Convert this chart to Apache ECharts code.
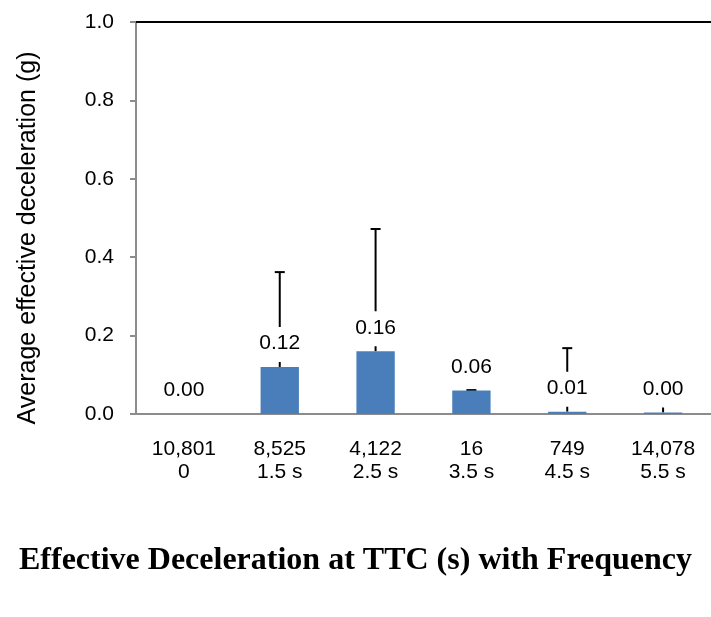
<!DOCTYPE html>
<html>
<head>
<meta charset="utf-8">
<script src="https://cdn.jsdelivr.net/npm/echarts@6/dist/echarts.min.js"></script>
<style>
  html, body { margin: 0; padding: 0; background: #fff; }
  #chart { width: 711px; height: 617px; }
</style>
</head>
<body>
<div id="chart"></div>
<script>
// data
var frequency = ['10,801', '8,525', '4,122', '16', '749', '14,078'];
var ttcLabels = ['0', '1.5 s', '2.5 s', '3.5 s', '4.5 s', '5.5 s'];
var avgDecel = [0, 0.12, 0.16, 0.06, 0.006, 0.004];
var errUpper = [null, 0.362, 0.472, 0.061, 0.168, 0.028];
var yTicks = [0, 0.2, 0.4, 0.6, 0.8, 1.0];

var categories = frequency.map(function (f, i) { return f + '\n' + ttcLabels[i]; });

var chartDom = document.getElementById('chart');
var myChart = echarts.init(chartDom);

var errData = errUpper.map(function (u, i) { return [i, avgDecel[i], u]; })
    .filter(function (d) { return d[2] !== null; });

var sans = "'Liberation Sans', Arial, sans-serif";

var option = {
    animation: false,
    backgroundColor: '#fff',
    textStyle: { fontFamily: sans },
    title: {
        text: 'Effective Deceleration at TTC (s) with Frequency',
        left: 'center',
        top: 540,
        textStyle: {
            fontFamily: "'Liberation Serif', 'Times New Roman', serif",
            fontWeight: 'bold',
            fontSize: 32,
            color: '#000'
        }
    },
    graphic: [
        {
            type: 'text',
            x: 28,
            y: 238,
            rotation: Math.PI / 2,
            style: {
                text: 'Average effective deceleration (g)',
                fontFamily: sans,
                fontSize: 25,
                fill: '#000',
                align: 'center',
                verticalAlign: 'middle'
            }
        }
    ],
    grid: { left: 136, top: 22, right: -2, bottom: 203 },
    xAxis: [
        {
            type: 'category',
            data: categories,
            boundaryGap: true,
            axisLine: { lineStyle: { color: '#8c8c8c', width: 2 } },
            axisTick: { alignWithLabel: false, length: 6, lineStyle: { color: '#8c8c8c', width: 2 } },
            axisLabel: { color: '#000', fontSize: 21, lineHeight: 23, margin: 24, interval: 0 }
        },
        {
            type: 'category',
            data: categories,
            position: 'top',
            axisLine: { show: true, lineStyle: { color: '#000', width: 2 } },
            axisTick: { show: false },
            axisLabel: { show: false }
        }
    ],
    yAxis: {
        type: 'value',
        min: yTicks[0],
        max: yTicks[yTicks.length - 1],
        interval: 0.2,
        axisLine: { show: true, lineStyle: { color: '#8c8c8c', width: 2 } },
        axisTick: { show: true, length: 6, lineStyle: { color: '#8c8c8c', width: 2 } },
        splitLine: { show: false },
        axisLabel: {
            color: '#000', fontSize: 21, margin: 22,
            formatter: function (v) { return v.toFixed(1); }
        }
    },
    series: [
        {
            type: 'custom',
            z: 1,
            data: errData,
            renderItem: function (params, api) {
                var x = api.value(0);
                var base = api.coord([x, api.value(1)]);
                var top = api.coord([x, api.value(2)]);
                var half = 5;
                return {
                    type: 'group',
                    children: [
                        { type: 'line', shape: { x1: base[0], y1: base[1], x2: top[0], y2: top[1] },
                          style: { stroke: '#000', lineWidth: 2 } },
                        { type: 'line', shape: { x1: top[0] - half, y1: top[1], x2: top[0] + half, y2: top[1] },
                          style: { stroke: '#000', lineWidth: 2 } }
                    ]
                };
            }
        },
        {
            type: 'bar',
            z: 2,
            data: avgDecel,
            barWidth: '40%',
            itemStyle: { color: '#4a7ebb' },
            label: {
                show: true,
                position: 'top',
                distance: 5,
                color: '#000',
                fontSize: 21,
                backgroundColor: '#fff',
                padding: [6, 0, 8, 0],
                formatter: function (p) { return p.value.toFixed(2); }
            }
        }
    ]
};

myChart.setOption(option);
</script>
</body>
</html>
